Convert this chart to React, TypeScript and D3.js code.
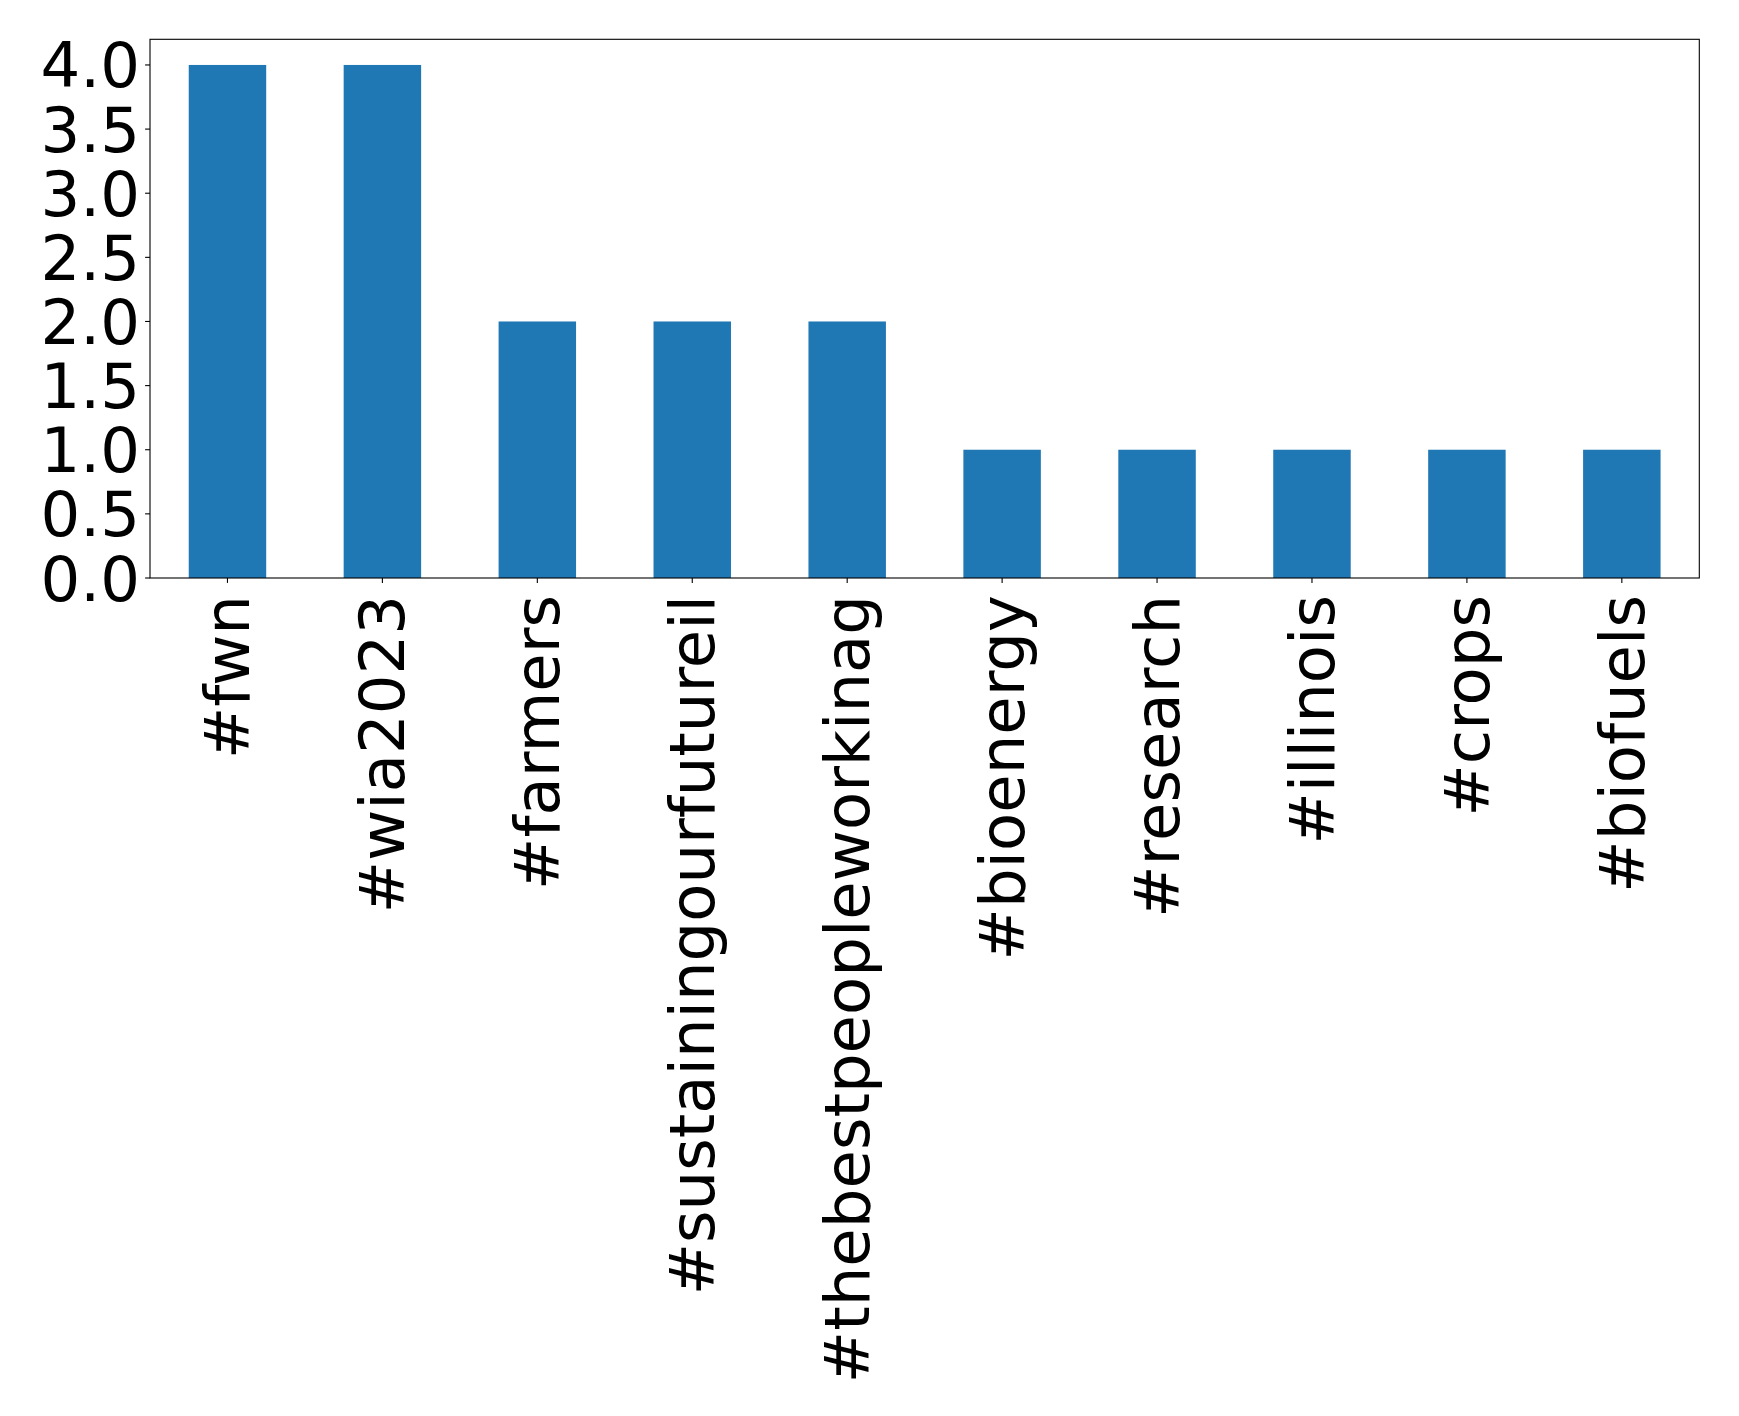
import React from "react";
import * as d3 from "d3";

const categories = ["#fwn", "#wia2023", "#farmers", "#sustainingourfutureil", "#thebestpeopleworkinag", "#bioenergy", "#research", "#illinois", "#crops", "#biofuels"];
const counts = [4, 4, 2, 2, 2, 1, 1, 1, 1, 1];
const yTicks = [0, 0.5, 1, 1.5, 2, 2.5, 3, 3.5, 4];

const W = 1739, H = 1416;
const left = 150, right = 1699.3, top = 39.3, bottom = 578;
const FS = 62.5;

export default function App() {
  const x = d3.scaleLinear().domain([-0.5, categories.length - 0.5]).range([left, right]);
  const y = d3.scaleLinear().domain([0, 4.2]).range([bottom, top]);
  const bw = x(0.25) - x(-0.25);
  return (
    <svg width={W} height={H} style={{ position: "absolute", left: 0, top: 0, background: "#fff" }}
      fontFamily="DejaVu Sans" >
      <rect x={0} y={0} width={W} height={H} fill="#fff" />
      {counts.map((v, i) => (
        <rect key={i} x={x(i) - bw / 2} y={y(v)} width={bw} height={y(0) - y(v)} fill="#1f77b4" />
      ))}
      <rect x={left} y={top} width={right - left} height={bottom - top} fill="none" stroke="#000" strokeWidth={1.1} />
      {yTicks.map((t) => (
        <g key={t}>
          <line x1={left - 4.9} x2={left} y1={y(t)} y2={y(t)} stroke="#000" strokeWidth={1.1} />
          <text x={left - 10} y={y(t)} dy="0.36em" textAnchor="end" fontSize={FS} fill="#000">{t.toFixed(1)}</text>
        </g>
      ))}
      {categories.map((c, i) => (
        <g key={c}>
          <line x1={x(i)} x2={x(i)} y1={bottom} y2={bottom + 4.9} stroke="#000" strokeWidth={1.1} />
          <text transform={`translate(${x(i)},${bottom + 17}) rotate(-90)`} dy="0.35em" textAnchor="end" fontSize={FS} fill="#000">{c}</text>
        </g>
      ))}
    </svg>
  );
}
